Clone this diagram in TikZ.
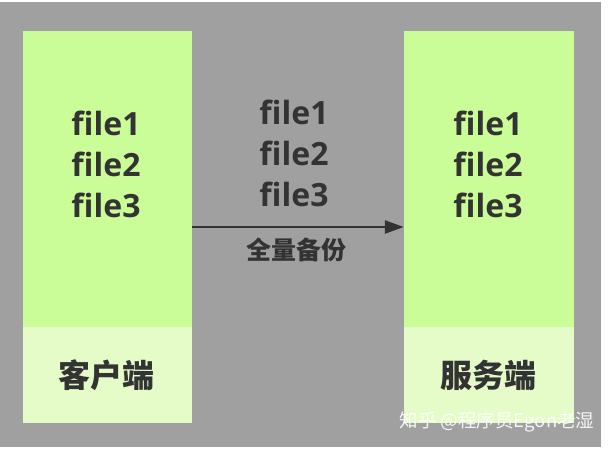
\documentclass[tikz,border=0pt]{standalone}
\usepackage{fontspec}
\usetikzlibrary{arrows.meta}
\setmainfont{Open Sans}
\newfontfamily\cjk{Noto Sans CJK SC}
\definecolor{bggray}{HTML}{A0A0A0}
\definecolor{boxgreen}{HTML}{CAFC98}
\definecolor{lightgreen}{HTML}{E5FCC9}
\definecolor{txt}{HTML}{333333}
\tikzset{
  filetxt/.style={text=txt, font=\fontsize{32}{41}\selectfont\bfseries, align=center, inner sep=0pt},
  cjktxt/.style={text=txt, font=\fontsize{32}{36}\selectfont\cjk\bfseries, inner sep=0pt},
  boxpart/.style={fill=boxgreen, draw=none},
  lowpart/.style={fill=lightgreen, draw=none},
  flow/.style={draw=txt, line width=2.4pt, -{Triangle[length=19pt,width=13pt]}}
}
\begin{document}
\begin{tikzpicture}[x=1pt,y=-1pt]
\useasboundingbox (0,0) rectangle (611,451);
\fill[white] (0,0) rectangle (611,451);
\fill[bggray] (0,2) rectangle (601,447);
% client box
\fill[boxpart] (23,31) rectangle (192,327);
\fill[lowpart] (23,327) rectangle (192,423);
\node[draw=none, minimum width=169pt, minimum height=392pt, inner sep=0pt] (client) at (107.5,227) {};
% server box
\fill[boxpart] (404,31) rectangle (574,327);
\fill[lowpart] (404,327) rectangle (574,423);
\node[draw=none, minimum width=170pt, minimum height=392pt, inner sep=0pt] (server) at (489,227) {};
% texts
\node[filetxt] (cfiles) at (106,164) {file1\\file2\\file3};
\node[filetxt] (sfiles) at (488,164) {file1\\file2\\file3};
\node[filetxt] (mfiles) at (294,153) {file1\\file2\\file3};
\node[cjktxt] (clabel) at (106,375) {客户端};
\node[cjktxt] (slabel) at (488,375) {服务端};
% arrow
\draw[flow] (client.east |- 0,227) -- (server.west |- 0,227);
\node[text=txt, font=\fontsize{25}{28}\selectfont\cjk\bfseries, inner sep=0pt] (flabel) at (296,250) {全量备份};
% watermark
\node[text=white, opacity=0.9, font=\fontsize{18.5}{20}\selectfont\cjk, inner sep=0pt] (wm) at (497,422) {知乎 @程序员Egon老湿};
\end{tikzpicture}
\end{document}
